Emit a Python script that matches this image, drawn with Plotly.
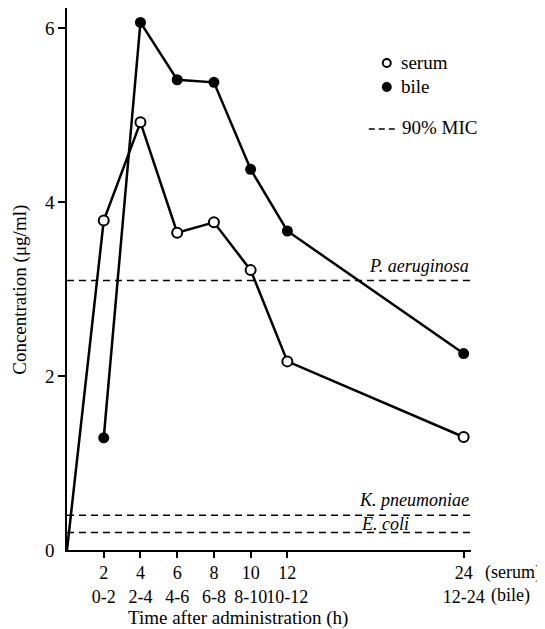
import plotly.graph_objects as go

# ---- data ----
serum_hours = [2, 4, 6, 8, 10, 12, 24]
serum_conc = [3.79, 4.92, 3.65, 3.77, 3.22, 2.17, 1.30]
bile_hours = [2, 4, 6, 8, 10, 12, 24]
bile_conc = [1.29, 6.07, 5.41, 5.38, 4.38, 3.67, 2.26]
tick_hours = [2, 4, 6, 8, 10, 12, 24]
tick_serum = ["2", "4", "6", "8", "10", "12", "24"]
tick_bile = ["0-2", "2-4", "4-6", "6-8", "8-10", "10-12", "12-24"]
mic_names = ["P. aeruginosa", "K. pneumoniae", "E. coli"]
mic_values = [3.1, 0.4, 0.2]
y_ticks = [2, 4, 6]

# axis is compressed beyond 12 h
BREAK_AT = 12
BREAK_SCALE = 0.8
X_END = 22.0


def xpos(h):
    return h if h <= BREAK_AT else BREAK_AT + (h - BREAK_AT) * BREAK_SCALE


FONT = "Liberation Serif"
FS = 19

# page body has an 8px margin; figure is sized so the plot lands where the reference has it
OFF = 8
W, H = 545 - OFF, 629 - OFF
X0, X1, Y0, Y1 = 67, 471.3, 8, 550.5   # plot area in window pixels
L, R, T, B = X0 - OFF, W - (X1 - OFF), Y0 - OFF, H - (Y1 - OFF)
PW, PH = X1 - X0, Y1 - Y0
Y_END = PH / 87.0


def px(xp):
    return (xp - X0) / PW


def py(yp):
    return (Y1 - yp) / PH


fig = go.Figure()

# MIC dashed lines
for v in mic_values:
    fig.add_trace(go.Scatter(x=[0, X_END], y=[v, v], mode="lines",
                             line=dict(color="black", width=1.5, dash="7px,5px"),
                             showlegend=False, hoverinfo="skip"))

# serum line from origin
fig.add_trace(go.Scatter(x=[0] + [xpos(h) for h in serum_hours], y=[0] + serum_conc,
                         mode="lines", line=dict(color="black", width=2.5),
                         showlegend=False))
fig.add_trace(go.Scatter(x=[xpos(h) for h in serum_hours], y=serum_conc, mode="markers",
                         marker=dict(symbol="circle", size=10, color="white",
                                     line=dict(color="black", width=2)),
                         showlegend=False, cliponaxis=False))
fig.add_trace(go.Scatter(x=[xpos(h) for h in bile_hours], y=bile_conc, mode="lines+markers",
                         line=dict(color="black", width=2.5),
                         marker=dict(symbol="circle", size=11, color="black"),
                         showlegend=False, cliponaxis=False))

# MIC labels
mic_label_pos = {"P. aeruginosa": (X_END, "right", "bottom", 3),
                 "K. pneumoniae": (X_END, "right", "bottom", 3),
                 "E. coli": (17.3, "center", "middle", 9)}
for name, v in zip(mic_names, mic_values):
    xx, anc, yanc, ysh = mic_label_pos[name]
    fig.add_annotation(x=xx, y=v, xref="x", yref="y", text="<i>%s</i>" % name,
                       showarrow=False, xanchor=anc, yanchor=yanc, yshift=ysh,
                       font=dict(family=FONT, size=FS - 1, color="black"))

# legend (drawn manually)
leg_items = [("serum", 63, "open"), ("bile", 87, "filled")]
for label, yp, kind in leg_items:
    fig.add_shape(type="circle", xref="paper", yref="paper",
                  x0=px(387 - 4), x1=px(387 + 4), y0=py(yp + 4), y1=py(yp - 4),
                  line=dict(color="black", width=2),
                  fillcolor="white" if kind == "open" else "black")
    fig.add_annotation(x=px(399), y=py(yp), xref="paper", yref="paper",
                       text=label, showarrow=False, xanchor="left", yanchor="middle",
                       font=dict(family=FONT, size=FS, color="black"))
fig.add_shape(type="line", xref="paper", yref="paper",
              x0=px(369), x1=px(395), y0=py(129), y1=py(129),
              line=dict(color="black", width=1.5, dash="6px,4px"))
fig.add_annotation(x=px(400), y=py(128), xref="paper", yref="paper",
                   text="90% MIC", showarrow=False, xanchor="left", yanchor="middle",
                   font=dict(family=FONT, size=FS, color="black"))

# extra tick-row labels
fig.add_annotation(x=px(483), y=py(573), xref="paper", yref="paper", text="(serum)",
                   showarrow=False, xanchor="left", yanchor="middle",
                   font=dict(family=FONT, size=FS - 1, color="black"))
fig.add_annotation(x=px(489), y=py(596), xref="paper", yref="paper", text="(bile)",
                   showarrow=False, xanchor="left", yanchor="middle",
                   font=dict(family=FONT, size=FS - 1, color="black"))
# zero label
fig.add_annotation(x=0, y=0, xref="x", yref="y", text="0", showarrow=False,
                   xanchor="right", yanchor="middle", xshift=-10,
                   font=dict(family=FONT, size=FS, color="black"))
# axis titles
fig.add_annotation(x=px(238), y=py(619), xref="paper", yref="paper",
                   text="Time after administration (h)",
                   showarrow=False, xanchor="center", yanchor="middle",
                   font=dict(family=FONT, size=FS, color="black"))
fig.add_annotation(x=px(20), y=py(290), xref="paper", yref="paper",
                   text="Concentration (\u03bcg/ml)", textangle=-90, showarrow=False,
                   xanchor="center", yanchor="middle",
                   font=dict(family=FONT, size=FS, color="black"))

fig.update_xaxes(range=[0, X_END], showline=True, linecolor="black", linewidth=1.5,
                 showgrid=False, zeroline=False, ticks="outside", ticklen=6, tickwidth=1.5,
                 tickcolor="black", tickvals=[xpos(h) for h in tick_hours],
                 ticktext=["%s<br>%s" % (a, b) for a, b in zip(tick_serum, tick_bile)],
                 tickangle=0, automargin=False,
                 tickfont=dict(family=FONT, size=FS - 1, color="black"))
fig.update_yaxes(range=[0, Y_END], showline=True, linecolor="black", linewidth=1.5,
                 showgrid=False, zeroline=False, ticks="outside", ticklen=7, tickwidth=1.5,
                 tickcolor="black", tickvals=y_ticks, ticktext=[str(t) for t in y_ticks],
                 automargin=False,
                 tickfont=dict(family=FONT, size=FS, color="black"))

fig.update_layout(width=W, height=H, margin=dict(l=L, r=R, t=T, b=B, pad=0),
                  plot_bgcolor="white", paper_bgcolor="white", showlegend=False,
                  font=dict(family=FONT, size=FS, color="black"))

fig.write_html("out.html")
